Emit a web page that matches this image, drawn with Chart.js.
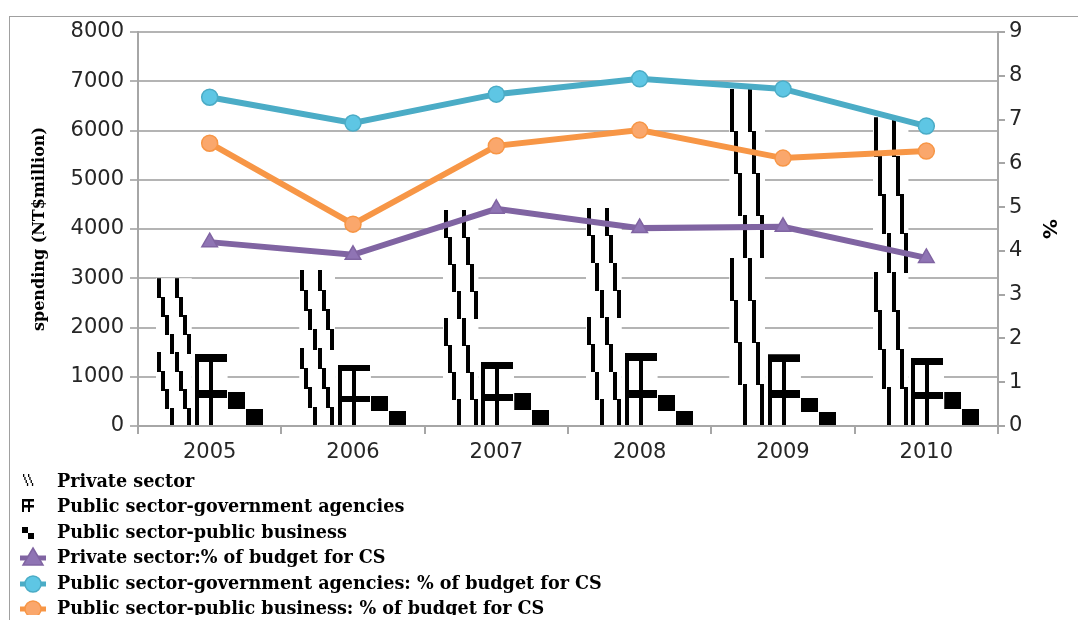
<!DOCTYPE html>
<html>
<head>
<meta charset="utf-8">
<script src="https://cdn.jsdelivr.net/npm/chart.js@4.4.1/dist/chart.umd.min.js"></script>
<style>
  body { margin: 0; background: #fff; width: 1078px; height: 620px; overflow: hidden; position: relative; }
  #frame { position: absolute; left: 9px; top: 16px; width: 1100px; height: 700px; border-left: 1px solid #a0a0a0; border-top: 1px solid #a0a0a0; }
  #wrap { position: absolute; left: 0; top: 0; width: 1078px; height: 470px; }
  #legend { position: absolute; left: 0; top: 0; width: 1078px; height: 615px; overflow: hidden; font: bold 17.6px 'DejaVu Serif'; color: #000; }
  .row { position: absolute; left: 18px; height: 26px; line-height: 26px; white-space: nowrap; }
  .row canvas { position: absolute; left: 0; top: 0; }
  .row span { position: absolute; left: 39px; top: 0; }
</style>
</head>
<body>
<div id="frame"></div>
<div id="wrap"><canvas id="chart" width="1078" height="470"></canvas></div>
<div id="legend"></div>
<script>
const years = ['2005', '2006', '2007', '2008', '2009', '2010'];
// spending, NT$ million (left axis)
const privateSpend = [3000, 3170, 4390, 4430, 6850, 6270];
const govSpend = [1460, 1240, 1300, 1480, 1455, 1385];
const bizSpend = [690, 610, 670, 630, 570, 690];
// % of budget for CS (right axis)
const privatePct = [4.20, 3.91, 4.96, 4.52, 4.55, 3.84];
const govPct = [7.51, 6.92, 7.58, 7.93, 7.70, 6.85];
const bizPct = [6.46, 4.61, 6.40, 6.76, 6.12, 6.28];

const purple = '#8064A2';
const teal = '#4BACC6';
const orange = '#F79646';
const tickFont = { family: 'DejaVu Sans', size: 21 };
const tickColor = '#262626';
const axisGray = '#a6a6a6';
const catPct = 0.75;

function box(g, x, y, w, h) {
  g.fillRect(Math.round(x), Math.round(y), Math.max(1, Math.round(w)), Math.max(1, Math.round(h)));
}

// pattern tiles, drawn at the size of each bar
function drawPrivate(g, w, h) {
  const th = h / 2;
  for (let t = 0; t < 2; t++) {
    for (const ox of [0, 0.49 * w]) {
      for (let k = 0; k < 4; k++) {
        box(g, ox + 0.03 * w + k * 0.115 * w, t * th + k * th / 4, 3.5, th / 4 + 1);
      }
    }
  }
}
function drawGov(g, w, h) {
  const th = h / 2;
  for (let t = 0; t < 2; t++) {
    const y0 = t * th;
    box(g, 0.07 * w, y0, 4, th);
    box(g, 0.46 * w, y0, 4, th);
    box(g, 0.07 * w, y0, 0.89 * w, Math.max(4, 0.21 * th));
  }
}
function drawBiz(g, w, h) {
  box(g, 0, 0, 0.48 * w, h / 2);
  box(g, 0.5 * w, h / 2, 0.48 * w, h / 2);
}
const drawers = [drawPrivate, drawGov, drawBiz];

function barPattern(ctx) {
  if (ctx.type !== 'data') return '#fff';
  const chart = ctx.chart;
  const xs = chart.scales.x, ys = chart.scales.y;
  if (!xs || !ys || !(xs.width > 0)) return '#fff';
  const catW = xs.width / years.length;
  const groupW = catW * catPct;
  const barW = groupW / 3;
  const left = xs.getPixelForValue(ctx.dataIndex) - groupW / 2 + ctx.datasetIndex * barW;
  const top = ys.getPixelForValue(ctx.raw);
  const base = ys.getPixelForValue(0);
  const w = Math.round(barW);
  const h = Math.round(base - top);
  if (!(w > 1) || !(h > 1) || !isFinite(left)) return '#fff';
  const c = document.createElement('canvas');
  c.width = w; c.height = h;
  const g = c.getContext('2d');
  g.fillStyle = '#fff';
  g.fillRect(0, 0, w, h);
  g.fillStyle = '#000';
  drawers[ctx.datasetIndex](g, w, h);
  const p = chart.ctx.createPattern(c, 'no-repeat');
  p.setTransform(new DOMMatrix([1, 0, 0, 1, Math.round(left), Math.round(top)]));
  return p;
}

function lineSet(label, data, color, fill, style) {
  return {
    type: 'line', label, data, yAxisID: 'y2', order: 1,
    borderColor: color, borderWidth: 6, tension: 0,
    pointStyle: style, pointRadius: style === 'triangle' ? 9 : 8,
    pointBackgroundColor: fill, pointBorderColor: color, pointBorderWidth: 1.5
  };
}

const plain = v => String(v);

const chart = new Chart(document.getElementById('chart'), {
  type: 'bar',
  data: {
    labels: years,
    datasets: [
      { label: 'Private sector', data: privateSpend, yAxisID: 'y', order: 2, backgroundColor: barPattern, borderWidth: 0, categoryPercentage: catPct, barPercentage: 1 },
      { label: 'Public sector-government agencies', data: govSpend, yAxisID: 'y', order: 2, backgroundColor: barPattern, borderWidth: 0, categoryPercentage: catPct, barPercentage: 1 },
      { label: 'Public sector-public business', data: bizSpend, yAxisID: 'y', order: 2, backgroundColor: barPattern, borderWidth: 0, categoryPercentage: catPct, barPercentage: 1 },
      lineSet('Private sector:% of budget for CS', privatePct, purple, '#8f74b4', 'triangle'),
      lineSet('Public sector-government agencies: % of budget for CS', govPct, teal, '#5ec6e4', 'circle'),
      lineSet('Public sector-public business: % of budget for CS', bizPct, orange, '#faa76c', 'circle')
    ]
  },
  options: {
    responsive: false,
    animation: false,
    layout: { padding: { left: 26, right: 16, top: 32, bottom: 0 } },
    plugins: { legend: { display: false }, tooltip: { enabled: false } },
    scales: {
      x: {
        offset: true,
        grid: { drawOnChartArea: false, tickLength: 8, color: axisGray, lineWidth: 2, offset: true },
        border: { color: axisGray, width: 2 },
        ticks: { font: tickFont, color: tickColor, padding: 6 },
        afterFit: s => { s.height = 44; }
      },
      y: {
        position: 'left', min: 0, max: 8000,
        ticks: { stepSize: 1000, font: tickFont, color: tickColor, padding: 6, callback: plain },
        grid: { color: '#b4b4b4', lineWidth: 2, tickLength: 8 },
        border: { color: axisGray, width: 2 },
        title: { display: true, text: 'spending (NT$million)', color: '#000', padding: { top: 4, bottom: 0 },
          font: { family: 'DejaVu Serif', weight: 'bold', size: 16 } },
        afterFit: s => { s.width = 112; }
      },
      y2: {
        position: 'right', min: 0, max: 9,
        ticks: { stepSize: 1, font: tickFont, color: tickColor, padding: 4, callback: plain },
        grid: { drawOnChartArea: false, tickLength: 7, color: axisGray, lineWidth: 2 },
        border: { color: axisGray, width: 2 },
        title: { display: true, text: '%', color: '#000', padding: { top: 2, bottom: 0 },
          font: { family: 'DejaVu Sans', weight: 'bold', size: 20 } },
        afterFit: s => { s.width = 64; }
      }
    }
  }
});

// legend, one entry per line below the chart
function legendIcon(g, i) {
  g.fillStyle = '#000';
  if (i === 0) {
    for (const ox of [5, 10]) {
      for (let k = 0; k < 4; k++) g.fillRect(ox + k * 1.3, 6 + k * 3, 1.3, 3);
    }
  } else if (i === 1) {
    g.fillRect(4, 6, 2, 13);
    g.fillRect(4, 6, 12, 2.5);
    g.fillRect(4, 12, 12, 2.5);
    g.fillRect(10, 6, 2, 13);
  } else if (i === 2) {
    g.fillRect(4, 8, 6, 6);
    g.fillRect(10, 14, 6, 6);
  } else {
    const ds = chart.data.datasets[i];
    g.strokeStyle = ds.borderColor;
    g.lineWidth = 5;
    g.beginPath(); g.moveTo(2, 14); g.lineTo(28, 14); g.stroke();
    g.fillStyle = ds.pointBackgroundColor;
    g.strokeStyle = ds.borderColor;
    g.lineWidth = 1.5;
    g.beginPath();
    if (ds.pointStyle === 'triangle') {
      g.moveTo(15, 4); g.lineTo(25, 21); g.lineTo(5, 21); g.closePath();
    } else {
      g.arc(15, 14, 8, 0, Math.PI * 2);
    }
    g.fill(); g.stroke();
  }
}

const legend = document.getElementById('legend');
chart.data.datasets.forEach((ds, i) => {
  const row = document.createElement('div');
  row.className = 'row';
  row.style.top = (481 + 25.4 * i - 13) + 'px';
  const c = document.createElement('canvas');
  c.width = 30; c.height = 26;
  legendIcon(c.getContext('2d'), i);
  const t = document.createElement('span');
  t.textContent = ds.label;
  row.appendChild(c);
  row.appendChild(t);
  legend.appendChild(row);
});
</script>
</body>
</html>
